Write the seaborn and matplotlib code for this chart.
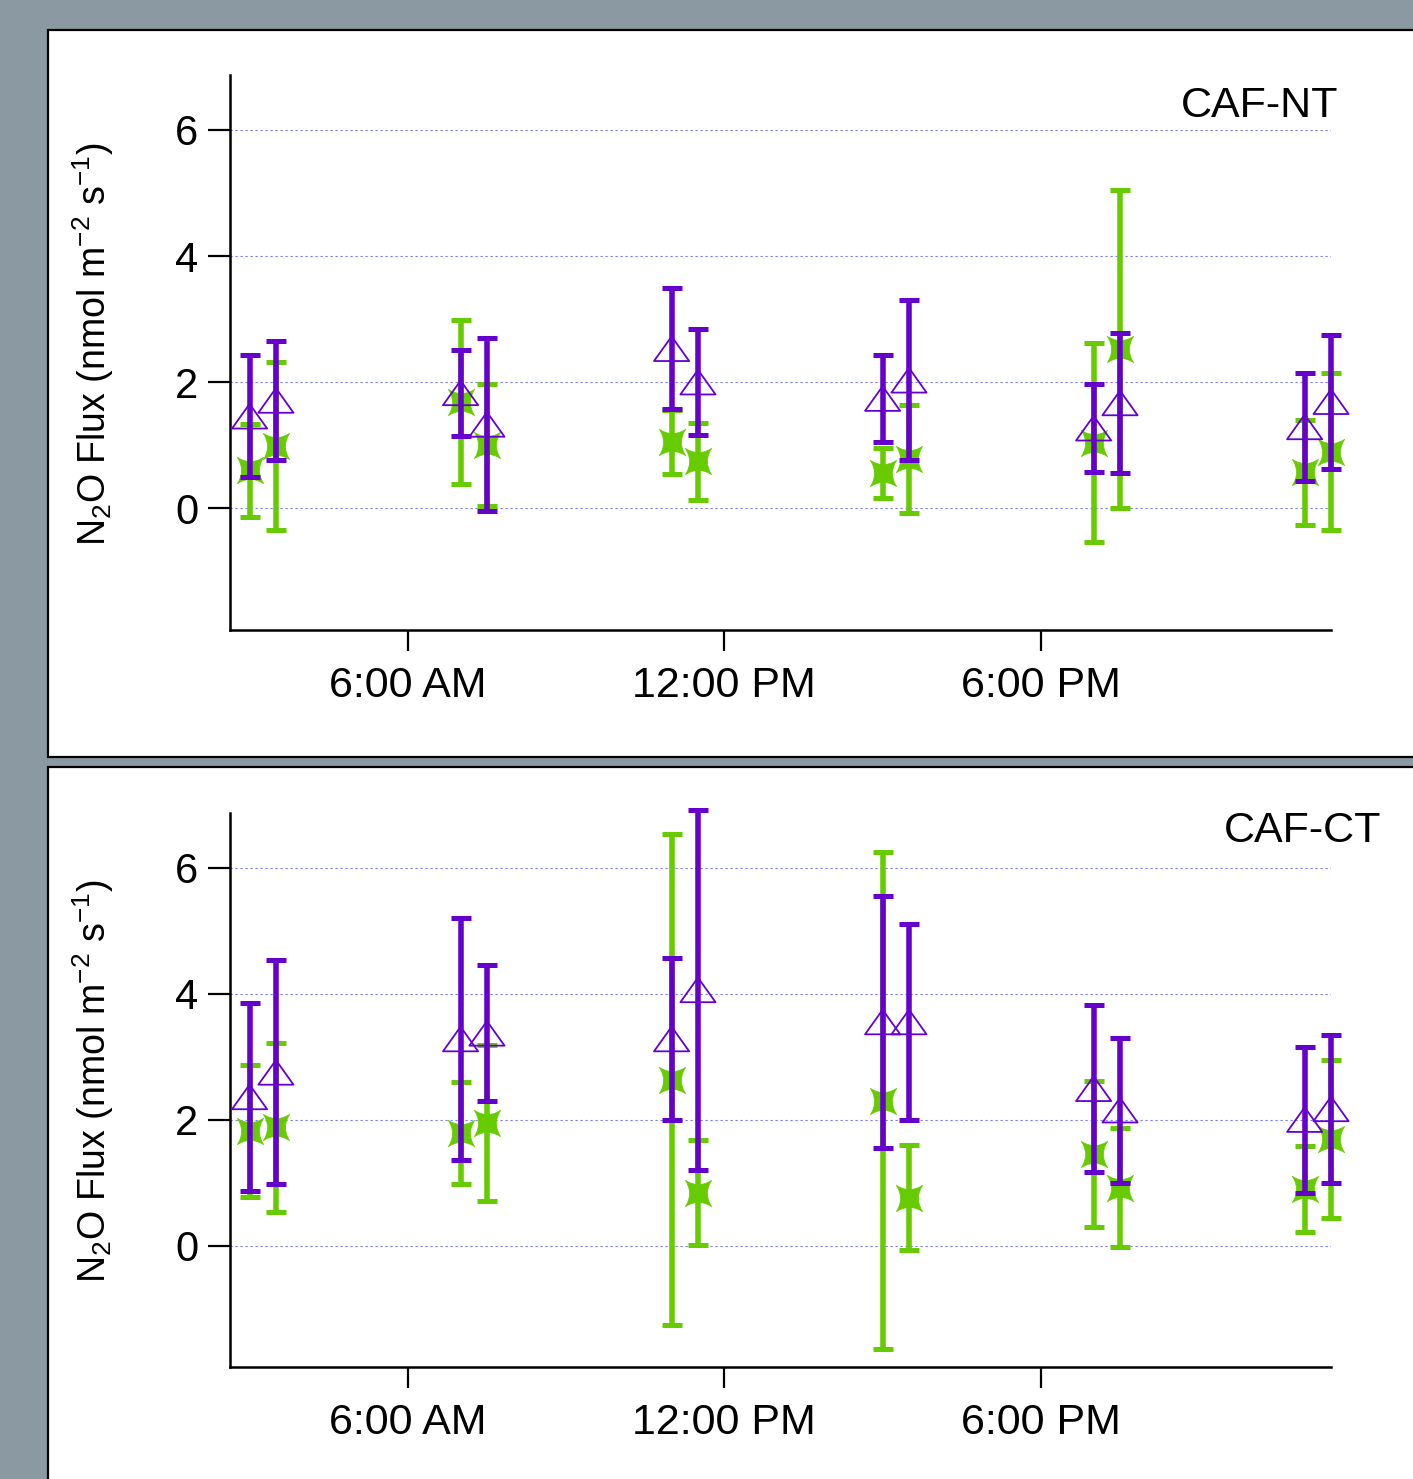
import numpy as np
import pandas as pd
import seaborn as sns
import matplotlib.pyplot as plt
from matplotlib.patches import Rectangle
from matplotlib.path import Path

# sampling times (hours of day)
hours = [3, 3.5, 7, 7.5, 11, 11.5, 15, 15.5, 19, 19.5, 23, 23.5]

# CAF-NT
nt_purple = [1.46, 1.71, 1.83, 1.33, 2.53, 2.00, 1.74, 2.03, 1.27, 1.67, 1.29, 1.69]
nt_purple_err = [0.97, 0.94, 0.68, 1.37, 0.96, 0.84, 0.69, 1.27, 0.70, 1.11, 0.86, 1.06]
nt_green = [0.60, 0.99, 1.68, 1.00, 1.05, 0.745, 0.56, 0.78, 1.04, 2.52, 0.57, 0.90]
nt_green_err = [0.73, 1.33, 1.30, 0.97, 0.51, 0.61, 0.39, 0.86, 1.58, 2.52, 0.83, 1.25]

# CAF-CT
ct_purple = [2.36, 2.75, 3.28, 3.37, 3.28, 4.06, 3.55, 3.55, 2.49, 2.15, 2.00, 2.17]
ct_purple_err = [1.50, 1.78, 1.92, 1.08, 1.28, 2.86, 2.00, 1.55, 1.33, 1.15, 1.16, 1.18]
ct_green = [1.82, 1.88, 1.78, 1.94, 2.63, 0.84, 2.30, 0.76, 1.46, 0.92, 0.90, 1.69]
ct_green_err = [1.05, 1.34, 0.81, 1.24, 3.90, 0.83, 3.95, 0.83, 1.16, 0.95, 0.68, 1.25]

tick_hours = [6, 12, 18]
tick_labels = ["6:00 AM", "12:00 PM", "6:00 PM"]
y_ticks = [0, 2, 4, 6]

PURPLE = "#6600cc"
GREEN = "#66cc00"
BG = "#8b99a2"

sns.set_style("white")
plt.rcParams["font.family"] = ["Liberation Sans", "DejaVu Sans"]
plt.rcParams["mathtext.fontset"] = "custom"
plt.rcParams["mathtext.rm"] = "Liberation Sans"
plt.rcParams["text.color"] = "black"
plt.rcParams["axes.labelcolor"] = "black"

# open triangle, wider than tall
tri = Path([(-1, -0.7), (1, -0.7), (0, 0.7), (-1, -0.7)],
           [Path.MOVETO, Path.LINETO, Path.LINETO, Path.CLOSEPOLY])

# four-point concave star, points on the diagonals
t = np.linspace(-1, 1, 11)
edge = 1 - 0.32 * (1 - t ** 2)
verts = []
verts += list(zip(-t, edge))          # top edge, right -> left
verts += list(zip(-edge, -t))        # left edge, top -> bottom
verts += list(zip(t, -edge))         # bottom edge, left -> right
verts += list(zip(edge, t))          # right edge, bottom -> top
star = Path(verts + [verts[0]], closed=True)

fig = plt.figure(figsize=(14.13, 14.79), dpi=100)
fig.patch.set_facecolor(BG)

for y0, h in [(0.4882, 0.4915), (-0.1, 0.5814)]:
    fig.patches.append(Rectangle((0.034, y0), 1.1, h, transform=fig.transFigure,
                                 facecolor="white", edgecolor="black",
                                 linewidth=1.6, zorder=-1))

panels = [
    ([0.1628, 0.574, 0.7792, 0.3753], "CAF-NT", 1.007, 0.945,
     nt_purple, nt_purple_err, nt_green, nt_green_err),
    ([0.1628, 0.0757, 0.7792, 0.3746], "CAF-CT", 1.046, 0.968,
     ct_purple, ct_purple_err, ct_green, ct_green_err),
]

for rect, name, tx, ty, pm, pe, gm, ge in panels:
    ax = fig.add_axes(rect)
    ax.set_facecolor("none")
    df = pd.DataFrame({"hour": hours, "purple": pm, "purple_err": pe,
                       "green": gm, "green_err": ge})

    eb = ax.errorbar(df["hour"], df["green"], yerr=df["green_err"], fmt="none",
                     ecolor=GREEN, elinewidth=4, capsize=7, capthick=3.6, zorder=2)
    for art in eb.get_children():
        art.set_clip_on(False)
    sns.scatterplot(data=df, x="hour", y="green", marker=star, s=360,
                    color=GREEN, edgecolor=GREEN, linewidth=0.5, ax=ax,
                    zorder=3, clip_on=False)
    eb = ax.errorbar(df["hour"], df["purple"], yerr=df["purple_err"], fmt="none",
                     ecolor=PURPLE, elinewidth=4, capsize=7, capthick=3.6, zorder=4)
    for art in eb.get_children():
        art.set_clip_on(False)
    sns.scatterplot(data=df, x="hour", y="purple", marker=tri, s=640,
                    color=PURPLE, facecolor="none", edgecolor=PURPLE,
                    linewidth=1.3, ax=ax, zorder=5, clip_on=False)

    ax.set_xlim(2.63, 23.5)
    ax.set_ylim(-1.93, 6.87)
    ax.set_xticks(tick_hours)
    ax.set_xticklabels(tick_labels)
    ax.set_yticks(y_ticks)
    ax.grid(axis="y", color="#7b7bff", linestyle=(0, (2, 2.5)), linewidth=0.8)
    ax.grid(axis="x", visible=False)
    ax.set_axisbelow(True)

    for side in ["top", "right"]:
        ax.spines[side].set_visible(False)
    for side in ["left", "bottom"]:
        ax.spines[side].set_color("black")
        ax.spines[side].set_linewidth(1.8)

    ax.tick_params(axis="x", direction="out", length=15, width=1.6,
                   labelsize=31, pad=11, bottom=True, colors="black")
    ax.tick_params(axis="y", direction="out", length=16, width=1.6,
                   labelsize=30, pad=7, left=True, colors="black")

    ax.set_xlabel("")
    ax.set_ylabel("N$_2$O Flux (nmol m$^{-2}$ s$^{-1}$)", fontsize=27)
    ax.yaxis.set_label_coords(-0.104, 0.515)

    ax.text(tx, ty, name, transform=ax.transAxes, ha="right", va="center",
            fontsize=31)

fig.savefig("out.png", dpi=100, facecolor=fig.get_facecolor())
